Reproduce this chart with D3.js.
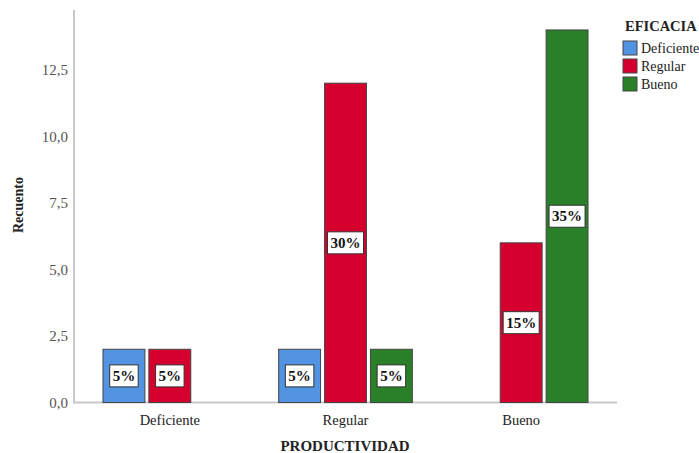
<!DOCTYPE html>
<html><head><meta charset="utf-8">
<script src="https://cdn.jsdelivr.net/npm/d3@7"></script>
<style>body{margin:0;background:#fff}svg{display:block}svg text{font-family:"Liberation Serif","DejaVu Serif",serif !important}</style>
</head><body><svg id="c" width="699" height="453"></svg>
<script>
const categories = ["Deficiente", "Regular", "Bueno"];
const series = ["Deficiente", "Regular", "Bueno"];
const colors = ["#5294e2", "#d6002f", "#2a8028"];
// counts[category][series]
const countsDeficiente = [2, 2, 0];
const countsRegular = [2, 12, 2];
const countsBueno = [0, 6, 14];
const percentDeficiente = ["5%", "5%", ""];
const percentRegular = ["5%", "30%", "5%"];
const percentBueno = ["", "15%", "35%"];
const yTicks = [0, 2.5, 5, 7.5, 10, 12.5];
const yTickLabels = ["0,0", "2,5", "5,0", "7,5", "10,0", "12,5"];

const counts = [countsDeficiente, countsRegular, countsBueno];
const percents = [percentDeficiente, percentRegular, percentBueno];

const svg = d3.select("#c");
const x0 = 74, x1 = 617, yBase = 402.5, yTop = 10;
const y = d3.scaleLinear().domain([0, 14.75]).range([yBase, yTop]);
const xg = d3.scaleBand().domain(categories).range([x0, x1]).paddingInner(0.239).paddingOuter(0.165);
const xs = d3.scaleBand().domain(series).range([0, xg.bandwidth()]).paddingInner(0.087);

svg.append("line").attr("x1", x0).attr("x2", x0).attr("y1", yTop).attr("y2", yBase + 1)
  .attr("stroke", "#c8c8c8").attr("stroke-width", 2);
svg.append("line").attr("x1", x0).attr("x2", x1).attr("y1", yBase).attr("y2", yBase)
  .attr("stroke", "#c8c8c8").attr("stroke-width", 2);

const yAxis = d3.axisLeft(y).tickValues(yTicks).tickSize(0).tickPadding(6)
  .tickFormat((d, i) => yTickLabels[i]);
const ga = svg.append("g").attr("transform", `translate(${x0},0)`).call(yAxis);
ga.attr("font-family", null);
ga.select(".domain").remove();
ga.selectAll("text").attr("font-size", 15).attr("fill", "#555");

const xAxis = d3.axisBottom(xg).tickSize(0).tickPadding(12);
const gx = svg.append("g").attr("transform", `translate(0,${yBase})`).call(xAxis);
gx.attr("font-family", null);
gx.select(".domain").remove();
gx.selectAll("text").attr("font-size", 14.5).attr("fill", "#222");

const rows = [];
categories.forEach((c, ci) => series.forEach((s, si) => {
  if (counts[ci][si] > 0) rows.push({c, s, si, v: counts[ci][si], p: percents[ci][si]});
}));
const g = svg.append("g");
g.selectAll("rect.bar").data(rows).join("rect").attr("class", "bar")
  .attr("x", d => xg(d.c) + xs(d.s)).attr("width", xs.bandwidth())
  .attr("y", d => y(d.v)).attr("height", d => yBase - y(d.v))
  .attr("fill", d => colors[d.si]).attr("stroke", "#444").attr("stroke-width", 1);

const lab = g.selectAll("g.lab").data(rows).join("g").attr("class", "lab")
  .attr("transform", d => `translate(${xg(d.c) + xs(d.s) + xs.bandwidth() / 2},${y(d.v / 2)})`);
lab.each(function (d) {
  const el = d3.select(this);
  const t = el.append("text").text(d.p).attr("text-anchor", "middle").attr("dy", "0.35em")
    .attr("font-size", 15).attr("font-weight", "bold").attr("fill", "#111");
  const w = t.node().getComputedTextLength();
  el.insert("rect", "text").attr("x", -w / 2 - 3).attr("width", w + 6).attr("y", -11).attr("height", 22)
    .attr("fill", "#fff").attr("stroke", "#333").attr("stroke-width", 1);
});

svg.append("text").attr("x", 345).attr("y", 451).attr("text-anchor", "middle")
  .attr("font-size", 15).attr("font-weight", "bold").attr("fill", "#222").text("PRODUCTIVIDAD");
svg.append("text").attr("transform", "translate(23,205) rotate(-90)").attr("text-anchor", "middle")
  .attr("font-size", 14).attr("font-weight", "bold").attr("fill", "#222").text("Recuento");

const lg = svg.append("g");
lg.append("text").attr("x", 625).attr("y", 31).attr("font-size", 14.5).attr("font-weight", "bold").attr("fill", "#222").text("EFICACIA");
const li = lg.selectAll("g.li").data(series).join("g").attr("class", "li")
  .attr("transform", (d, i) => `translate(623,${41 + i * 18})`);
li.append("rect").attr("width", 14).attr("height", 14).attr("fill", (d, i) => colors[i]).attr("stroke", "#444");
li.append("text").attr("x", 18).attr("y", 7).attr("dy", "0.35em").attr("font-size", 14).attr("fill", "#222").text(d => d);
</script></body></html>
